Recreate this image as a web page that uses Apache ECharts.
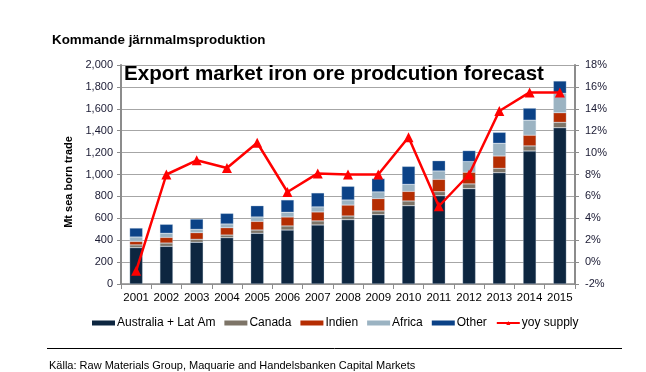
<!DOCTYPE html>
<html>
<head>
<meta charset="utf-8">
<script src="https://cdn.jsdelivr.net/npm/echarts@6/dist/echarts.min.js"></script>
<style>html,body{margin:0;padding:0;background:#fff}#c{width:646px;height:372px}</style>
</head>
<body>
<div id="c"></div>
<script>
var years = ['2001','2002','2003','2004','2005','2006','2007','2008','2009','2010','2011','2012','2013','2014','2015'];
var australia = [332, 344, 381, 423, 463, 493, 539, 587, 633, 715, 806, 871, 1016, 1215, 1427];
var canada    = [25, 30, 27, 24, 30, 37, 37, 34, 34, 43, 37, 43, 40, 46, 49];
var indien    = [32, 52, 61, 67, 79, 82, 82, 100, 113, 88, 113, 107, 113, 98, 88];
var africa    = [40, 37, 30, 34, 40, 43, 46, 46, 61, 64, 76, 97, 116, 137, 177];
var other     = [82, 82, 94, 97, 103, 113, 128, 125, 122, 164, 94, 100, 100, 110, 113];
var yoy       = [-0.8, 8.0, 9.3, 8.6, 10.9, 6.4, 8.1, 8.0, 8.0, 11.4, 5.1, 8.0, 13.8, 15.5, 15.5];
var leftTicks = [0, 2000, 200];
var rightTicks = [-2, 18, 2];

var chart = echarts.init(document.getElementById('c'), null, {renderer: 'canvas'});
function bar(name, data, color) {
  return {name: name, type: 'bar', stack: 'total', data: data, barWidth: 13,
    itemStyle: {color: color, borderColor: 'rgba(200,215,230,0.6)', borderWidth: 0.5}};
}
chart.setOption({
  animation: false,
  textStyle: {fontFamily: 'Liberation Sans, Arial, sans-serif'},
  title: [
    {text: 'Kommande järnmalmsproduktion', left: 47, top: 29,
     textStyle: {fontSize: 13.4, fontWeight: 'bold', color: '#000'}},
    {text: 'Export market iron ore prodcution forecast', left: 119, top: 59,
     textStyle: {fontSize: 20.6, fontWeight: 'bold', color: '#000'}},
    {text: 'Källa: Raw Materials Group, Maquarie and Handelsbanken Capital Markets', left: 44, top: 355,
     textStyle: {fontSize: 11, fontWeight: 'normal', color: '#000'}}
  ],
  graphic: [
    {type: 'line', shape: {x1: 47, y1: 348.5, x2: 622, y2: 348.5}, style: {stroke: '#000', lineWidth: 1}},
    {type: 'text', x: 69, y: 182, rotation: Math.PI / 2,
     style: {text: 'Mt sea born trade', fontSize: 11, fontWeight: 'bold', fill: '#000',
       fontFamily: 'Liberation Sans, Arial, sans-serif', align: 'center', verticalAlign: 'middle'}}
  ],
  grid: {left: 121, right: 71, top: 65, bottom: 88},
  legend: {
    left: 92, top: 317, padding: 0, itemWidth: 23, itemHeight: 5, itemGap: 9,
    itemStyle: {borderWidth: 0},
    textStyle: {fontSize: 12, color: '#000', padding: [0, 0, 0, -3]},
    data: [
      {name: 'Australia + Lat Am', icon: 'rect'},
      {name: 'Canada', icon: 'rect'},
      {name: 'Indien', icon: 'rect'},
      {name: 'Africa', icon: 'rect'},
      {name: 'Other', icon: 'rect'},
      {name: 'yoy supply'}
    ]
  },
  xAxis: {
    type: 'category', data: years,
    axisLine: {lineStyle: {color: '#8c8c8c', width: 1.5}},
    axisTick: {show: true, length: 5, lineStyle: {color: '#8c8c8c'}},
    axisLabel: {fontSize: 11.5, color: '#000', margin: 8, interval: 0}
  },
  yAxis: [
    {type: 'value', min: leftTicks[0], max: leftTicks[1], interval: leftTicks[2],
     axisLine: {show: true, lineStyle: {color: '#8c8c8c', width: 2}},
     axisTick: {show: true, length: 4, lineStyle: {color: '#8c8c8c'}},
     splitLine: {lineStyle: {color: '#a6a6a6', width: 1}},
     axisLabel: {fontSize: 11, color: '#1a1a33', margin: 8,
       formatter: function (v) { return v.toLocaleString('en-US'); }}},
    {type: 'value', min: rightTicks[0], max: rightTicks[1], interval: rightTicks[2],
     axisLine: {show: true, lineStyle: {color: '#8c8c8c', width: 2}},
     axisTick: {show: true, length: 4, lineStyle: {color: '#8c8c8c'}},
     splitLine: {show: false},
     axisLabel: {fontSize: 11, color: '#1a1a33', margin: 10, formatter: '{value}%'}}
  ],
  series: [
    bar('Australia + Lat Am', australia, '#0d2640'),
    bar('Canada', canada, '#7d7467'),
    bar('Indien', indien, '#b52d02'),
    bar('Africa', africa, '#9bb3c2'),
    bar('Other', other, '#0b4287'),
    {name: 'yoy supply', type: 'line', yAxisIndex: 1, data: yoy,
     symbol: 'triangle', symbolSize: 10, z: 5,
     lineStyle: {color: '#ff0000', width: 2.5},
     itemStyle: {color: '#ff0000'}}
  ]
});
</script>
</body>
</html>
